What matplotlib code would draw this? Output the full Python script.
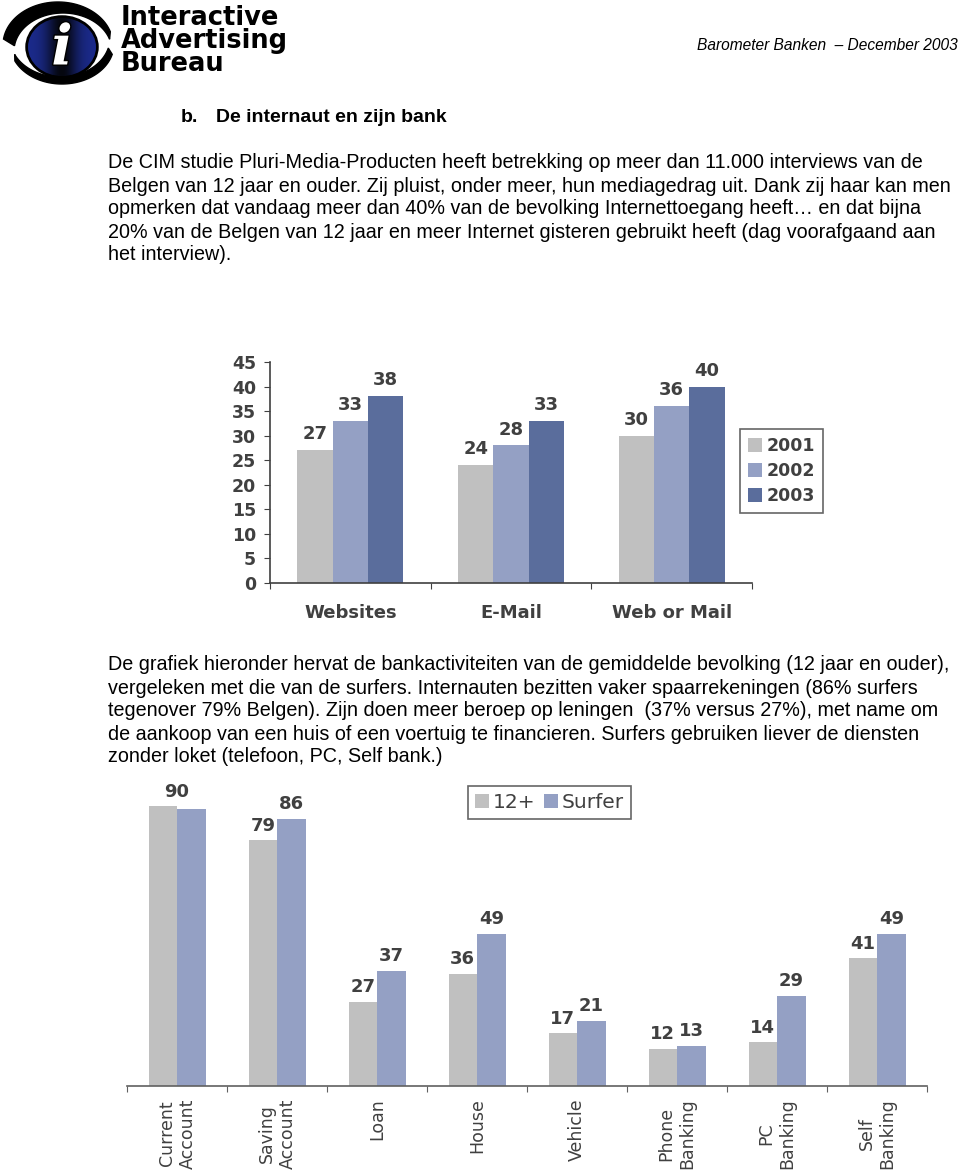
import numpy as np
import matplotlib
matplotlib.use('Agg')
from matplotlib import pyplot as plt
from matplotlib.patches import Ellipse, Polygon
import matplotlib.patheffects as pe

W, H = 960, 1175

# chart 1: internet use per year
web_cats = ['Websites', 'E-Mail', 'Web or Mail']
years = ['2001', '2002', '2003']
y2001 = [27, 24, 30]
y2002 = [33, 28, 36]
y2003 = [38, 33, 40]
ticks1 = [0, 5, 10, 15, 20, 25, 30, 35, 40, 45]

# chart 2: bank activities
bank_cats = ['Current\nAccount', 'Saving\nAccount', 'Loan', 'House', 'Vehicle',
             'Phone\nBanking', 'PC\nBanking', 'Self\nBanking']
series2 = ['12+', 'Surfer']
pop12 = [90, 79, 27, 36, 17, 12, 14, 41]
surfer = [89, 86, 37, 49, 21, 13, 29, 49]

para1 = ["De CIM studie Pluri-Media-Producten heeft betrekking op meer dan 11.000 interviews van de",
         "Belgen van 12 jaar en ouder. Zij pluist, onder meer, hun mediagedrag uit. Dank zij haar kan men",
         "opmerken dat vandaag meer dan 40% van de bevolking Internettoegang heeft\u2026 en dat bijna",
         "20% van de Belgen van 12 jaar en meer Internet gisteren gebruikt heeft (dag voorafgaand aan",
         "het interview)."]
para2 = ["De grafiek hieronder hervat de bankactiviteiten van de gemiddelde bevolking (12 jaar en ouder),",
         "vergeleken met die van de surfers. Internauten bezitten vaker spaarrekeningen (86% surfers",
         "tegenover 79% Belgen). Zijn doen meer beroep op leningen  (37% versus 27%), met name om",
         "de aankoop van een huis of een voertuig te financieren. Surfers gebruiken liever de diensten",
         "zonder loket (telefoon, PC, Self bank.)"]

c_gray = '#C0C0C0'
c_light = '#94A0C4'
c_dark = '#5A6D9C'
txt = '#404040'
body = 'Liberation Sans'


def px(x, y):
    return x / W, 1 - y / H


def box(x0, y0, x1, y1):
    return [x0 / W, 1 - y1 / H, (x1 - x0) / W, (y1 - y0) / H]


fig = plt.figure(figsize=(W / 100, H / 100), dpi=100)

# ---- logo ----
lg = fig.add_axes(box(0, 0, 118, 88))
lg.axis('off')


def crescent(c_out, ab_out, c_in, ab_in, t0, t1):
    t = np.radians(np.linspace(t0, t1, 60))
    outer = np.c_[c_out[0] + ab_out[0] * np.cos(t), c_out[1] - ab_out[1] * np.sin(t)]
    inner = np.c_[c_in[0] + ab_in[0] * np.cos(t), c_in[1] - ab_in[1] * np.sin(t)]
    return Polygon(np.vstack([outer, inner[::-1]]), closed=True, color='black')

lg.add_patch(crescent((58, 45), (55, 43), (63, 51), (49, 38), 18, 172))
lg.add_patch(crescent((62, 44), (52, 40), (60, 38), (50, 39), 205, 345))
lg.add_patch(Ellipse((62, 47), 70, 60, facecolor='#1B2A8A', edgecolor='black', lw=2.5))
gx = np.linspace(-1, 1, 100)
grad = np.exp(-(gx / 0.45) ** 2)[None, :].repeat(10, axis=0)
cm = matplotlib.colors.LinearSegmentedColormap.from_list('g', ['#1B2A8A', '#05070F'])
im = lg.imshow(grad, extent=(27, 97, 77, 17), cmap=cm, aspect='auto', zorder=2)
im.set_clip_path(Ellipse((62, 47), 68, 58, transform=lg.transData))
lg.text(62, 49, 'i', color='white', fontsize=40, family='DejaVu Serif', style='italic',
        weight='bold', ha='center', va='center', zorder=3,
        path_effects=[pe.withStroke(linewidth=2, foreground='black')])
lg.set_xlim(0, 118)
lg.set_ylim(88, 0)

fig.text(*px(121, 5), 'Interactive\nAdvertising\nBureau', fontsize=18.5, weight='bold',
         family='DejaVu Sans', va='top', ha='left', linespacing=0.86)

fig.text(*px(958, 45), 'Barometer Banken  \u2013 December 2003', family=body, style='italic',
         fontsize=11.2, ha='right', va='center')
fig.text(*px(181, 118), 'b.', family=body, weight='bold', fontsize=14, ha='left', va='center')
fig.text(*px(216, 118), 'De internaut en zijn bank', family=body, weight='bold',
         fontsize=14, ha='left', va='center')

for i, line in enumerate(para1):
    fig.text(*px(108, 163 + 23 * i), line, family=body, fontsize=14.2, ha='left', va='center')
for i, line in enumerate(para2):
    fig.text(*px(108, 665 + 23 * i), line, family=body, fontsize=14.2, ha='left', va='center')

# ---- chart 1 ----
ax1 = fig.add_axes(box(270, 362, 752, 583))
x = np.arange(len(web_cats))
bw = 0.22
for k, (vals, col, yr) in enumerate(zip([y2001, y2002, y2003], [c_gray, c_light, c_dark], years)):
    bars = ax1.bar(x + (k - 1) * bw, vals, bw, color=col, label=yr)
    for b, v in zip(bars, vals):
        ax1.annotate(str(v), (b.get_x() + b.get_width() / 2, v), xytext=(0, 5),
                     textcoords='offset points', ha='center', va='bottom',
                     fontsize=13, weight='bold', color=txt)
ax1.set_xlim(-0.5, 2.5)
ax1.set_ylim(0, 45)
for s in ['top', 'right']:
    ax1.spines[s].set_visible(False)
for s in ['left', 'bottom']:
    ax1.spines[s].set_color(txt)
    ax1.spines[s].set_linewidth(1.2)
ax1.set_yticks(ticks1)
ax1.set_yticklabels([str(t) for t in ticks1], fontsize=12.5, weight='bold', color=txt)
ax1.tick_params(axis='y', length=4, color=txt, pad=6)
ax1.set_xticks([-0.5, 0.5, 1.5, 2.5])
ax1.set_xticklabels([])
ax1.tick_params(axis='x', which='major', length=4.5, color=txt)
ax1.set_xticks(x, minor=True)
ax1.set_xticklabels(web_cats, minor=True, fontsize=13, weight='bold', color=txt)
ax1.tick_params(axis='x', which='minor', length=0, pad=15)

h1, l1 = ax1.get_legend_handles_labels()
leg1 = fig.legend(h1, l1, loc='center', bbox_to_anchor=px(781.5, 471), fancybox=False,
                  edgecolor=txt, prop={'size': 12.5, 'weight': 'bold'},
                  handlelength=0.8, handleheight=0.8, handletextpad=0.3,
                  labelspacing=0.4, borderpad=0.45)
leg1.get_frame().set_linewidth(1.2)
for t in leg1.get_texts():
    t.set_color(txt)

# ---- chart 2 ----
ax2 = fig.add_axes(box(127, 775, 927, 1086))
x2 = np.arange(len(bank_cats))
bw2 = 0.285
b_a = ax2.bar(x2 - bw2 / 2, pop12, bw2, color=c_gray, label=series2[0])
b_b = ax2.bar(x2 + bw2 / 2, surfer, bw2, color=c_light, label=series2[1])
for i, (ba, bb) in enumerate(zip(b_a, b_b)):
    if i == 0:
        # both bars nearly equal: one label over the pair
        ax2.annotate(str(pop12[i]), (x2[i], max(pop12[i], surfer[i])), xytext=(0, 4),
                     textcoords='offset points', ha='center', va='bottom',
                     fontsize=13, weight='bold', color=txt)
        continue
    for b, v in [(ba, pop12[i]), (bb, surfer[i])]:
        ax2.annotate(str(v), (b.get_x() + b.get_width() / 2, v), xytext=(0, 4),
                     textcoords='offset points', ha='center', va='bottom',
                     fontsize=13, weight='bold', color=txt)
ax2.set_xlim(-0.5, len(bank_cats) - 0.5)
ax2.set_ylim(0, 100)
for s in ['top', 'right', 'left']:
    ax2.spines[s].set_visible(False)
ax2.spines['bottom'].set_color('#606060')
ax2.spines['bottom'].set_linewidth(1.2)
ax2.set_yticks([])
ax2.set_xticks(np.arange(-0.5, len(bank_cats)))
ax2.set_xticklabels([])
ax2.tick_params(axis='x', which='major', length=4.5, color='#606060')
ax2.set_xticks(x2, minor=True)
ax2.set_xticklabels(bank_cats, minor=True, rotation=90, fontsize=12.5, color=txt,
                    va='top', ha='center', multialignment='center')
ax2.tick_params(axis='x', which='minor', length=0, pad=9)

h2, l2 = ax2.get_legend_handles_labels()
leg2 = fig.legend(h2, l2, loc='center', bbox_to_anchor=px(549.5, 802.5), ncol=2,
                  fancybox=False, edgecolor=txt, prop={'size': 14.5},
                  handlelength=0.7, handleheight=0.7, handletextpad=0.2,
                  columnspacing=0.4, borderpad=0.35)
leg2.get_frame().set_linewidth(1.2)
for t in leg2.get_texts():
    t.set_color(txt)

fig.savefig('out.png', dpi=100)
